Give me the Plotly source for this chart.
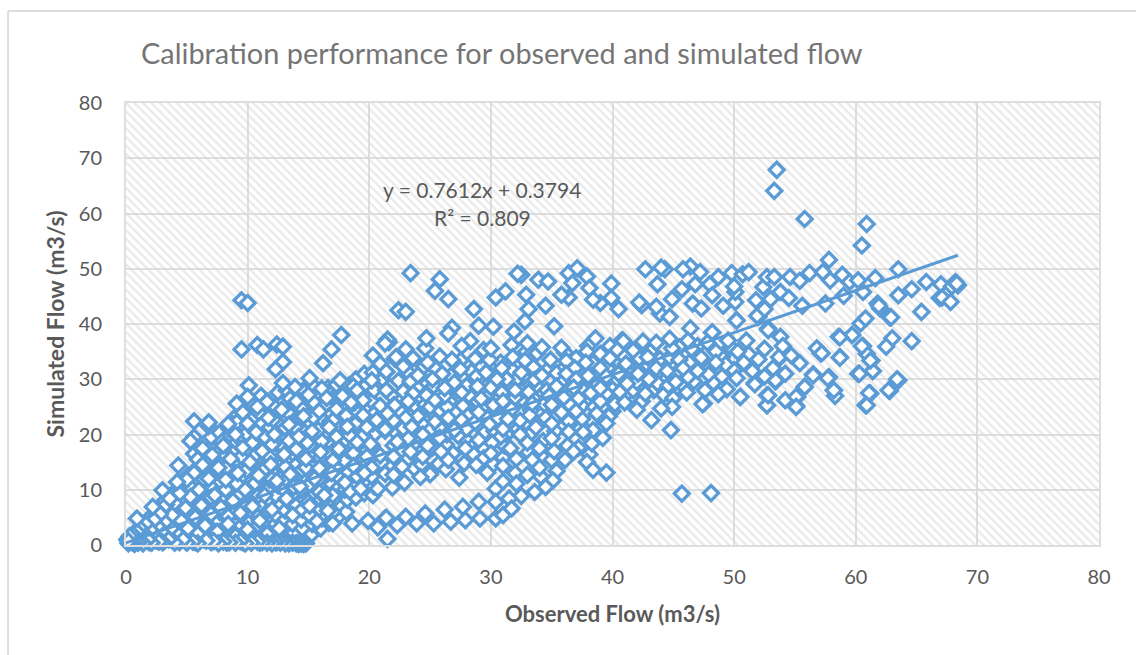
import plotly.graph_objects as go

TITLE = "Calibration performance for observed and simulated flow"
X_TITLE = "Observed Flow (m3/s)"
Y_TITLE = "Simulated Flow (m3/s)"
EQUATION = "y = 0.7612x + 0.3794"
R_SQUARED = "R² = 0.809"
TICKS = [0, 10, 20, 30, 40, 50, 60, 70, 80]
TREND_X = [0, 68.4]
TREND_Y = [0.38, 52.45]

upper_right = [(53.5,67.9),(53.3,64.1),(55.8,59),(60.9,58.1),(60.5,54.2),(57.8,51.6),(63.5,49.9),(42.7,49.9),(44.3,49.9),(44.0,50.2),(46.4,50.4),(45.8,49.9),(47.2,49.4),(48.7,48.5),(48,47.2),(46.8,47.2),(45.7,46.3),(43.7,47.2),(44.9,44.5),(42.4,43.4),(42.2,43.9),(43.9,41.9),(44.7,41.3),(43.6,43.1),(46.6,43.7),(47.3,42.8),(49.1,43.3),(50.1,44),(48.2,45.2),(49.8,49.2),(50.7,49),(51.2,49.4),(50.1,45.8),(50,46.8),(52.4,46.7),(52.7,48.5),(53.3,48.5),(53.8,45.8),(53,44.5),(51.8,44.3),(54.5,44.7),(54.6,48.5),(55.4,47.8),(56.2,49.2),(57.3,49.4),(55.6,43.3),(57.5,43.7),(57.9,47.9),(58.9,48.9),(59.5,47.6),(59,45.1),(60.2,47.9),(60.6,45.8),(61.6,48.3),(61.8,43.7),(62,42.8),(62.8,41.2),(63.5,45.2),(64.6,46.3),(65.8,47.6),(65.4,42.2),(66.9,44.7),(67,47.2),(67.1,44.8),(67.8,44),(67.9,46.8),(68.2,47.6),(68.4,47),(68.3,47.3)]

mid_right = [(61.9,43.3),(62.9,41.2),(64.6,36.9),(63,37.4),(62.5,35.9),(63.5,29.8),(62.8,27.9),(60.6,36),(60.4,40.1),(60.8,41),(59.7,38),(58.6,37.7),(61.4,31.5),(61.2,27.4),(60.8,25.3),(60.2,31),(58.7,34),(57.1,34.7),(56.8,35.6),(61.3,33.4),(60.9,34.6),(58.2,28),(58.3,27),(57.8,30.4),(56.5,30.9),(55.8,28.6),(55.2,26.8),(55.1,25.2),(52.7,25.3),(52.7,27.1),(50.5,26.8),(48.7,27.3),(47.5,25.6),(51.7,29.3),(53.4,29.6),(53.8,34),(53.8,37.7),(52.8,39.2),(52,41.3),(50.2,40.7),(48.2,38.4),(46.4,39.2),(48.2,38.5),(50.2,40.6),(51.9,41.5),(52.5,42.7),(52.8,38.9),(40.9,36.9),(42.5,36.8),(43.6,36.6),(44.9,35.6),(49.7,35.8),(51.2,34.5),(52,33.6),(47.3,33.9),(42.2,33.8),(43.6,32),(41,34),(46.2,30.4),(43.7,29.3),(42,29.5),(42.7,27.4),(44.6,28.9),(46.1,27.6),(47.4,25.5),(44.9,25),(44,24.7),(43.2,22.6),(44.8,20.8),(47.9,30.9),(49.3,32.7),(50.2,30.2),(51.7,29.1),(50.5,26.8),(53.4,29.8),(53.7,34),(52.7,25.3),(52.8,27.1),(54.2,26.2),(55.1,26.8),(55.1,25),(55.8,28.6),(56.5,30.7),(57.7,30.2),(58.2,28),(57.2,34.7),(58.7,33.9),(55.4,32.9),(54.7,34.3),(60.5,36),(60.3,31),(61.4,31.5),(61.2,33.4),(61.1,27.5),(60.9,25.3),(62.7,28),(63.4,30),(59.7,38),(58.7,37.6),(41.7,35.2),(41.1,32.8),(42.9,34),(42.1,31),(41.2,29.2),(45.5,33.5),(46.5,35.5),(47,31.5),(48.5,35),(44.5,31.5),(45.2,29.5),(49,30.5),(50.8,33),(51.5,31.5),(52.5,35.5),(53.2,32),(54.2,31),(49.5,37),(46.2,37),(47.8,36.6),(44.7,37.3),(45.8,32),(48.5,33),(43,30),(50.3,35),(51,37),(54,36),(52.5,30.5)]

center_top = [(23.4,49.2),(25.8,48.1),(25.4,46),(26.5,44.5),(28.6,42.7),(22.4,42.5),(23,42.2),(30.4,44.8),(31.2,45.9),(32.5,48.9),(32.2,49.1),(32.9,45.3),(33.9,48),(34.7,47.7),(36.4,49.2),(37.1,50.1),(37.9,48.6),(36.7,47.4),(38.1,46.5),(39.9,47.3),(39.9,44.7),(39,43.8),(38.4,44.4),(40.5,42.7),(36.4,44.8),(35.8,45.3),(33.1,42.7),(34.5,43.3),(32.8,40.5),(35.2,39.6),(26.8,39.3),(26.5,38.3),(29,39.7),(30.2,39.5)]

center = [(31.9,38.6),(33,36.5),(31.7,36.2),(29.4,35.3),(28.3,36.9),(27.6,36),(25.8,34.1),(26.8,33.5),(24.6,35.6),(24.7,37.4),(21.6,36.7),(23,35.4),(22.2,34),(23.6,33.8),(22.8,32.3),(24.5,32.3),(21.4,31.4),(23.4,29.6),(25.3,28.8),(27,29.4),(28.7,33.7),(29.9,33.5),(30.9,32),(33.5,32.2),(35.4,31.1),(36.2,33.3),(37.9,35),(38.6,37.4),(40.8,37.1),(40.4,35.3),(39.8,33.8),(38.4,32.9),(36.9,32),(39,32),(41.4,32.3),(38.8,29.1),(40.6,27.7),(40.2,25.5),(37.2,26.5),(36.4,25.6),(35.4,28.7),(33.6,29.9),(33.1,27.7),(32,26.7),(30.9,27.6),(32.1,29.9),(30.2,25.3),(28.2,27.1),(27.7,25.2),(26.4,25),(24.7,27.1),(23.6,27.4),(22.1,25.3),(21.4,28),(33.2,23.5),(32.4,22.5),(39.7,23.3),(38.7,23.8),(38.4,20.8),(36.4,20.5),(35,19.3),(35,22),(38.3,18.4),(34,17.5),(33,18.5),(33.4,15.4),(36.1,15.4),(37.9,15),(38.4,13.6),(39.5,13.1),(36.8,16.9),(35.4,13.4),(33,12.7),(35.1,11.7),(34.5,10.5),(33.6,9.6),(32.5,8.9),(32.1,11.1),(30.4,10.2),(31.5,8.4),(29.7,13.1),(31,14.3),(31.6,17.5),(29.9,21.9),(30.8,19.6),(30.1,18.5),(27.9,17.5),(29.4,15.7),(28.8,14.5),(27.3,19.8),(27.4,12.2),(26.3,13.7),(25.9,16.9),(25.4,22.3),(24.4,16),(23.4,16.9),(23.2,19.3),(22.8,21.1),(21.3,20.9),(24.2,12.3),(22.7,14.2),(21.3,12.9),(22.3,18.7),(22,12.7),(24.4,20),(25.8,19.4),(24,23.3),(26.2,27),(27.6,22.6),(29,24),(30,28.5),(28.8,30.5),(26,31),(24,30.7),(29.6,31.2),(31.3,30),(31.8,34),(33.8,34.7),(34.9,33.5),(35.8,35.7),(37,30),(38.2,27.5),(39.5,30.5),(40.5,31),(34.4,25.5),(35.8,24),(37.5,22.8),(36.8,28.5),(34.2,30.7),(32.8,33.4),(30.6,23),(31.7,24.6),(28,21),(26.5,23),(25,25),(23,23),(22,22.5),(29,19),(28,28.8),(31,21),(33.7,21.3),(34.8,27),(39,26),(41,25.8),(42,24.5),(36.2,31),(37.8,33),(34.2,35.8),(32.5,31.2),(30,35.6),(27.5,31.8),(25.2,30),(24.8,33),(23.2,26),(26.2,28.4),(29.2,26.5),(30.5,30),(32,28),(33.4,25.6),(35,25.4),(37,24.2),(39,28.4),(36,26.7),(38,30.6),(25.4,26.2),(27.6,27.6),(28.9,28.7),(31,26),(27,20.8),(32.4,20),(31.4,22.8),(37.6,20.4),(39.5,22),(34,14),(31,11.5),(30,16.6),(26.5,15.4),(24.8,18),(22,16),(21.5,23.8),(23.5,21.4)]

center_fill = [(20.7,10.2),(21,15),(20.6,22.6),(20.9,25.2),(21.1,30),(21.9,10.4),(22.2,20.3),(21.8,27.1),(22.4,29.7),(22.6,24.1),(22.9,11.3),(23.1,15.4),(22.8,27.8),(23.3,31),(23.7,13.9),(23.6,18.1),(23.9,24.8),(24,28.6),(24.3,14.6),(24.5,21.6),(24.6,25.4),(24.8,29.3),(25,12.8),(25.2,17.6),(25,20.8),(25.3,23.6),(25.5,31.8),(25.7,14.7),(25.9,21),(25.8,24.4),(26.1,29.6),(26.3,18.2),(26.4,20),(26.6,26),(26.7,30.6),(26.9,16.6),(27,22),(27.2,24),(27.3,28),(27.5,33.4),(27.8,14.8),(27.9,19.2),(28.1,23.4),(28.3,25.8),(28.4,31.4),(28.6,16.4),(28.7,22.2),(28.9,26),(29,30),(29.2,34.4),(29.4,17.4),(29.5,20.4),(29.7,23),(29.8,27),(30,30.6),(30.2,14.6),(30.3,20.6),(30.5,24),(30.6,26.4),(30.8,33),(31,15.8),(31.1,18),(31.3,20),(31.5,25.8),(31.6,28.6),(31.8,31.6),(32,13),(32.1,15.6),(32.2,21),(32.4,24),(32.5,27.8),(32.7,30.4),(32.9,35),(33.1,16.8),(33.2,20),(33.3,24.4),(33.5,26.6),(33.7,28.8),(33.9,31.2),(34.1,12.4),(34.2,16),(34.3,18.8),(34.5,23),(34.6,28),(34.8,32),(35,15.4),(35.2,17),(35.3,20.6),(35.5,23.6),(35.6,26),(35.8,29.6),(36,32),(36.1,34.8),(36.3,18),(36.4,22.4),(36.6,24.6),(36.7,27.4),(36.9,30),(37,33.8),(37.2,17.6),(37.3,21),(37.5,25.2),(37.6,28),(37.8,31),(38,36),(38.1,16.4),(38.3,22.4),(38.5,25),(38.7,27),(38.9,30.6),(39,34.6),(39.2,19.4),(39.3,24.6),(39.5,27.4),(39.6,32),(39.8,36),(40,24.2),(40.2,28.6),(40.4,30),(40.6,33),(40.8,34.4),(41,27),(41.2,31),(41.4,35.4),(41.7,28),(41.9,32.6),(42.2,36),(42.4,26),(42.6,30),(42.8,32.8),(43.1,35),(43.4,28),(43.6,30.6),(43.9,33.6),(44.2,27.2),(44.4,30),(44.7,34),(45,26.6),(45.2,31),(45.5,35.8),(45.9,28.6),(46.3,33),(46.7,29.6),(47,36),(47.6,28),(48,32),(48.3,29.4),(49,34),(49.4,28.2),(50,31.6)]

lower_band = [(21.3,4.8),(23,5.1),(24.6,5.7),(26.2,6.4),(27.7,6.9),(29,7.8),(30.4,4.8),(29.1,4.8),(27.9,4.5),(26.7,4.2),(25.3,3.9),(23.9,3.9),(22.3,3.6),(30.4,7.8),(31,5.4),(31.7,6.6),(21.5,1.1),(16.6,6.2),(15.1,7.1),(17,3.9),(18.6,3.9),(19.9,4.4),(20.7,3.2),(21.4,4.9)]

left_edge = [(9.5,44.3),(10,43.8),(9.5,35.4),(10.8,36.2),(11.3,35.4),(12.4,36.3),(12.9,35.9),(17.7,38),(16.9,35.4),(16.2,32.9),(21.5,37.2),(21.3,36.5),(12.9,33.1),(12.3,31.8),(12.9,29.3),(15.1,30.2),(10.1,28.9),(10,26.8),(9.1,25.6),(11.6,25.9),(10.8,25),(5.6,22.4),(6.8,21.5),(6.8,22.2),(5.6,19.5),(5.3,18.8),(4.3,14.4),(4.2,11.4),(3,9.9),(3.6,8.4),(2.2,6.9),(0.9,4.8)]

lower_left = [(13.9,28.6),(16.1,28.3),(17.6,29.8),(18.7,28.7),(20.2,29.8),(20.3,34.3),(20.9,32.8),(22.1,33.7),(21.4,31.3),(21.4,28),(19.5,26.2),(18.1,23.4),(16.4,25.3),(15.4,25.9),(13.5,26.5),(13.3,24),(12.1,22.7),(9.1,22.2),(8.4,21.9),(9.9,20.2),(7.9,18.7),(6.3,17.5),(5.9,15.5),(8.2,13.9),(6.4,11.9),(5.4,10.3),(7,8.6),(8.2,10),(9.2,8.9),(10.6,11.2),(9.1,11.1),(12,11.9),(13.8,10.5),(14.8,14),(15.9,13.9),(17,15.3),(15.9,9.6),(17,9),(18.4,9.7),(19.6,13),(21.3,13),(19.5,19.8),(17.3,19.6),(16.1,18.8),(15.8,20.8),(13.9,21.3),(13.4,18.9),(12,18.2),(10.4,18.5),(11.4,19.6),(14,17.3),(14.9,18.5),(10.6,16.2),(11.8,15.9),(13.1,14.1),(9.9,13.5),(11.3,13.5),(15.4,23.1),(17,22.5),(19.8,21.3),(21.3,20.7),(22,25.3),(18.4,19.8),(20.1,18.3),(22,18),(18.7,16.6),(20.9,16.2),(8.4,5.2),(6.5,6.8),(5.1,6.1),(3.4,6.2),(5.4,3.2),(4.2,1.5),(5.8,1.9),(7.7,1.4),(19,28),(18.5,25.8),(19.3,10.2),(19,18.6),(19.5,23.5),(19.8,16),(18.7,14.3),(18.2,21.4),(18,11.3),(17.8,27),(17.5,17.4),(17.3,24.6),(17,6),(16.9,13),(16.7,21.3),(16.5,26.6),(16.3,9),(16,16.8),(15.9,24.2),(15.7,4.3),(15.5,12),(15.3,20.6),(15,27.2),(15,7.8),(14.8,15.6),(14.6,23.3),(14.3,10.6),(14.2,19.6),(14,26),(13.7,5.4),(13.5,12.8),(13.4,21.8),(13.2,8.4),(13,16.4),(12.8,24.5),(12.6,3),(12.4,11.6),(12.2,20),(12,6.4),(11.9,14.6),(11.7,23),(11.6,2),(11.4,9),(11.2,17),(11,4.4),(10.9,12.6),(10.7,20.4),(10.4,7),(10.2,15),(10,22),(10,2.8),(9.8,10),(9.6,17.6),(9.4,5.8),(9.2,13),(9,20),(9,1.6),(8.8,8),(8.6,15.6),(8.4,3.8),(8.2,11.8),(8,18),(7.8,6.8),(7.6,14),(7.5,2.4),(7.3,9),(7.1,16.3),(7,5.6),(6.8,12),(6.5,3.5),(6.3,14.5),(6.2,7.2),(6,10),(5.9,2),(5.7,5),(5.6,13),(5.3,8.7),(5.1,3),(5,11.8),(4.9,6.7),(4.5,4.5),(4.4,9.3),(4.2,2.1),(4,7.6),(3.8,5.4),(3.7,3),(3.3,7.3),(3.2,4.1),(3,2.2),(2.8,5.6),(2.6,3.4),(2.4,1.6),(2.3,4.5),(2,2.7),(1.6,3.8),(1.5,2),(1.2,1.4),(1.1,3.1),(0.9,2.4),(0.8,1),(0.6,1.8),(0.4,1.3),(0.3,0.8)]

lower_fill = [(1.3,0.9),(1.3,2.6),(1.9,0.5),(1.9,1.9),(2,3.3),(1.8,4.6),(2.5,0.8),(2.6,2.4),(2.4,4),(2.5,5.3),(3.1,0.6),(3,1.7),(3.2,3.4),(3.1,5),(3,6.4),(3.2,8),(3.8,0.9),(3.9,2.5),(3.7,4),(3.8,6.1),(3.9,7.4),(3.7,9),(4.4,0.5),(4.5,1.8),(4.3,3.4),(4.4,5.4),(4.6,7),(4.3,8.6),(4.5,10.4),(5,1.2),(5.1,2.8),(5,4.6),(5.2,6),(4.9,7.9),(5,9.6),(5.2,11),(5.1,12.6),(5.7,0.5),(5.8,2.3),(5.6,3.8),(5.7,5.6),(5.9,7.3),(5.6,8.8),(5.8,10.8),(5.7,12.2),(5.9,14),(5.6,16.5),(6.4,1),(6.5,2.8),(6.3,4.4),(6.4,6.1),(6.6,8),(6.3,9.7),(6.5,11.2),(6.4,13),(6.6,15.4),(6.3,17.2),(7,0.5),(7.1,2),(6.9,3.6),(7,5),(7.2,6.8),(6.9,8.6),(7.1,10.5),(7,12.6),(7.2,14.4),(6.9,15.8),(7.1,18),(7,19.5),(7.7,1.1),(7.8,2.6),(7.6,4.4),(7.7,6),(7.9,7.8),(7.6,9.6),(7.8,11.4),(7.7,13.2),(7.9,15),(7.6,16.8),(7.8,18.4),(7.7,20.3),(8.3,0.4),(8.4,2),(8.2,3.4),(8.3,5),(8.5,6.8),(8.2,8.6),(8.4,10.4),(8.3,12.4),(8.5,14.2),(8.2,16.2),(8.4,17.6),(8.3,19.4),(8.5,21),(9,1),(9.1,2.7),(8.9,4.2),(9,6.1),(9.2,7.6),(8.9,9.6),(9.1,11.6),(9,13.4),(9.2,15.2),(8.9,16.8),(9.1,18.6),(9,20.4),(9.2,23.6),(9.6,0.5),(9.7,2),(9.5,3.5),(9.6,5.1),(9.8,7),(9.5,8.8),(9.7,10.6),(9.6,12.4),(9.8,14.4),(9.5,16),(9.7,18.4),(9.6,19.6),(9.8,21.4),(9.6,24),(10.3,1),(10.4,2.7),(10.2,4.2),(10.3,6.2),(10.5,8),(10.2,9.8),(10.4,11.7),(10.3,13.4),(10.5,15.2),(10.2,17),(10.4,19),(10.3,21),(10.5,23),(10.3,25.6),(11,0.4),(11.1,2),(10.9,3.6),(11,5.4),(11.2,7),(10.9,9),(11.1,10.8),(11,12.6),(11.2,14.2),(10.9,16),(11.1,18),(11,20),(11.2,22),(10.9,24),(11.1,27),(11.7,1.2),(11.8,2.8),(11.6,4.4),(11.7,6.2),(11.9,8),(11.6,10),(11.8,11.8),(11.7,13.4),(11.9,15.2),(11.6,17.4),(11.8,19),(11.7,21),(11.9,24.6),(11.6,26),(12.4,0.5),(12.5,2),(12.3,3.8),(12.4,5.2),(12.6,7.2),(12.3,9),(12.5,10.8),(12.4,12.8),(12.6,14.6),(12.3,16.2),(12.5,18),(12.4,20.2),(12.6,22.4),(12.3,25),(12.5,27.6),(13.1,1),(13.2,3),(13,4.4),(13.1,6.2),(13.3,8),(13,10),(13.2,11.8),(13.1,13.8),(13.3,15.4),(13,17.6),(13.2,19.4),(13.1,21.2),(13.3,23),(13,26),(13.2,28),(13.8,2.2),(13.7,3.8),(13.8,5.6),(14,7.2),(13.7,9.2),(13.9,11),(13.8,12.6),(14,14.6),(13.7,16.6),(13.9,18.2),(13.8,20.2),(14,22.2),(13.7,24.8),(13.9,27),(14.5,3),(14.4,4.6),(14.5,6.4),(14.7,8.2),(14.4,10),(14.6,12),(14.5,13.6),(14.7,15.4),(14.4,17.2),(14.6,19),(14.5,21),(14.7,23),(14.4,25),(14.6,28),(15.2,1.8),(15.3,3.8),(15.1,5.4),(15.2,7.4),(15.4,9),(15.1,11),(15.3,12.8),(15.2,14.6),(15.4,16.4),(15.1,18),(15.3,20),(15.2,22),(15.4,24),(15.1,26),(15.3,29),(16,3),(16.1,4.8),(15.9,6.6),(16,8.2),(16.2,10.2),(15.9,12),(16.1,14),(16,15.8),(16.2,17.6),(15.9,19.4),(16.1,21.2),(16,23),(16.2,25),(15.9,27.2),(16.7,4),(16.8,5.8),(16.6,7.6),(16.7,9.4),(16.9,11),(16.6,13),(16.8,15),(16.7,16.6),(16.9,18.4),(16.6,20.4),(16.8,22.4),(16.7,24.2),(16.9,26),(16.6,28.4),(17.4,5),(17.5,7),(17.3,8.8),(17.4,10.2),(17.6,12),(17.3,14),(17.5,16),(17.4,17.8),(17.6,19.6),(17.3,21.6),(17.5,23.4),(17.4,25.4),(17.6,27.4),(17.3,29),(18.1,6),(18.2,8.2),(18,10),(18.1,11.6),(18.3,13.2),(18,15.2),(18.2,17.2),(18.1,19),(18.3,21),(18,23),(18.2,24.8),(18.1,26.6),(18.3,28.8),(18.9,8.6),(18.8,10.6),(19,12.4),(18.9,14.4),(19.1,16),(18.8,18),(19,20),(18.9,22),(19.1,24),(18.8,25.8),(19,27.8),(18.9,30),(19.6,9.4),(19.7,11.4),(19.5,13.6),(19.6,15.4),(19.8,17.2),(19.5,19),(19.7,21),(19.6,23),(19.8,25),(19.5,27),(19.7,28.8),(19.6,31),(20.3,9),(20.4,10.6),(20.2,12.4),(20.3,14.2),(20.5,16.2),(20.2,18),(20.4,20),(20.3,22),(20.5,24),(20.2,26),(20.4,28),(20.3,31.2)]

base_row = [(14.8,0.3),(14.6,0.2),(14.4,0.3),(14.2,0.2),(14,0.3),(13.7,0.4),(13.4,0.3),(13.1,0.3),(12.7,0.4),(12.3,0.5),(12,0.3),(11.6,0.4),(11.2,0.5),(10.8,0.6),(10.3,0.4),(9.8,0.3),(9.4,0.7),(9,0.4),(8.5,0.5),(8,0.6),(7.6,0.3),(7.2,0.7),(6.6,0.8),(6.3,-0.1),(5.9,0.3),(5.5,0.6),(5,0.4),(4.7,1),(4,0.4),(3.5,1),(3,0.5),(2.7,0.6),(2.1,0.4),(1.8,1),(1.4,0.3),(1,0.4),(0.7,0.2),(0.5,0.5),(0.2,0.3),(0.1,1),(0.3,1.6),(0.2,0.7)]

points = (lower_fill + center_fill + lower_left + center + upper_right + mid_right + center_top
          + lower_band + left_edge + base_row + [(45.7,9.3),(48.1,9.4)])
observed = [p[0] for p in points]
simulated = [p[1] for p in points]

BLUE = "#5b9bd5"
GRID = "#dedede"
TEXT = "#595959"
FONT = "Lato"

fig = go.Figure()
fig.add_trace(go.Scatter(x=[0, 80, 80, 0, 0], y=[0, 0, 80, 80, 0], mode="none", fill="toself",
                         fillcolor="rgba(0,0,0,0)", hoverinfo="skip", showlegend=False,
                         fillpattern=dict(shape="\\", size=6, solidity=0.38, fgcolor="#d4d4d4", bgcolor="rgba(0,0,0,0)")))
fig.add_trace(go.Scatter(x=observed, y=simulated, mode="markers", showlegend=False, cliponaxis=False,
                         marker=dict(symbol="diamond", size=11.5, color="white", line=dict(color=BLUE, width=3.3))))
fig.add_trace(go.Scatter(x=TREND_X, y=TREND_Y, mode="lines", showlegend=False, cliponaxis=False,
                         line=dict(color=BLUE, width=3)))

axis = dict(range=[0, 80], tickvals=TICKS, showgrid=True, gridcolor=GRID, gridwidth=2, zeroline=False,
            showline=True, linecolor=GRID, linewidth=2, mirror=True, ticks="",
            tickfont=dict(family=FONT, size=20, color=TEXT))
fig.update_layout(
    width=1136, height=655, margin=dict(l=126, r=37, t=103, b=110), showlegend=False,
    paper_bgcolor="white", plot_bgcolor="white",
    title=dict(text=TITLE, x=141/1136, xanchor="left", xref="container", y=1-54/655, yanchor="middle",
               font=dict(family=FONT, size=28.9, color="#757575")),
    xaxis=dict(axis, ticklabelstandoff=13,
               title=dict(text="<b>" + X_TITLE + "</b>", standoff=20, font=dict(family=FONT, size=22, color=TEXT))),
    yaxis=dict(axis, ticklabelstandoff=18,
               title=dict(text="<b>" + Y_TITLE + "</b>", standoff=8, font=dict(family=FONT, size=23, color=TEXT))),
    annotations=[
        dict(text=EQUATION, x=29.3, y=64.3, xref="x", yref="y", showarrow=False, font=dict(family=FONT, size=21, color=TEXT)),
        dict(text=R_SQUARED, x=29.3, y=59.2, xref="x", yref="y", showarrow=False, font=dict(family=FONT, size=21, color=TEXT)),
    ],
    shapes=[
        dict(type="line", xref="paper", yref="paper", x0=-0.1212, x1=-0.1212, y0=-0.25, y1=1.208, line=dict(color=GRID, width=2)),
        dict(type="line", xref="paper", yref="paper", x0=-0.1212, x1=1.04, y0=1.208, y1=1.208, line=dict(color=GRID, width=2)),
    ],
)
fig.write_html("out.html", config={"displayModeBar": False}, post_script="document.body.style.margin='0';")
